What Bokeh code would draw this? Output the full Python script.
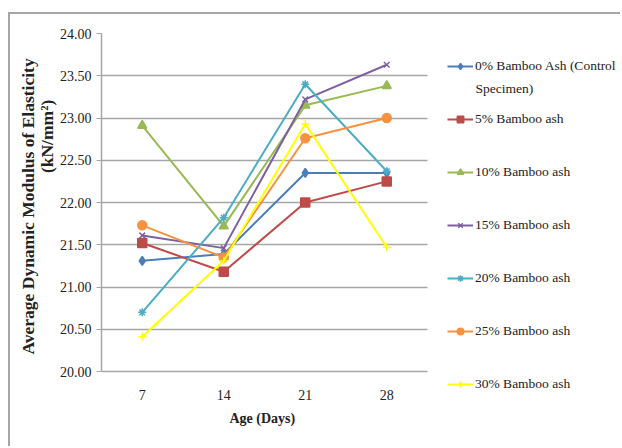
from bokeh.plotting import figure
from bokeh.models import (Legend, LegendItem, Label, FixedTicker, Range1d,
                          NumeralTickFormatter, Title)
from bokeh.embed import file_html
from bokeh.resources import INLINE

days = [7, 14, 21, 28]
series_names = [
    "0% Bamboo Ash (Control",
    "5% Bamboo ash",
    "10% Bamboo ash",
    "15% Bamboo ash",
    "20% Bamboo ash",
    "25% Bamboo ash",
    "30% Bamboo ash",
]
ash_0 = [21.31, 21.39, 22.35, 22.35]
ash_5 = [21.52, 21.18, 22.00, 22.25]
ash_10 = [22.91, 21.72, 23.15, 23.38]
ash_15 = [21.61, 21.46, 23.22, 23.63]
ash_20 = [20.70, 21.82, 23.40, 22.37]
ash_25 = [21.73, 21.35, 22.76, 23.00]
ash_30 = [20.41, 21.31, 22.93, 21.47]
y_ticks = [20.0, 20.5, 21.0, 21.5, 22.0, 22.5, 23.0, 23.5, 24.0]
Y0, Y1 = 20.0, 24.0

series = [ash_0, ash_5, ash_10, ash_15, ash_20, ash_25, ash_30]
colors = ["#4A7EBB", "#BE4B48", "#98B954", "#7D60A0", "#4BACC6", "#F69240", "#FFFF00"]
markers = ["diamond", "square", "triangle", "x", "asterisk", "circle", "cross"]
msizes = [9, 9, 9, 8, 8, 9, 8]

FONT = "Liberation Serif"
GRAY = "#a6a6a6"

# layout (pixels)
W, H = 612, 434
LEFT, TOP, BOTTOM = 91, 19, 56
PLOT_W, PLOT_H = 326, 338         # size of the data area 3.5..31.5 x 20..24
X0, X1 = 3.5, 31.5
frame_w = W - LEFT
frame_h = H - TOP - BOTTOM
x_end = X0 + (X1 - X0) * frame_w / PLOT_W
y_start = Y1 - (Y1 - Y0) * frame_h / PLOT_H

p = figure(width=W, height=H, output_backend="svg", toolbar_location=None,
           x_range=Range1d(X0, x_end), y_range=Range1d(y_start, Y1),
           min_border_left=LEFT, min_border_top=TOP, min_border_bottom=BOTTOM, min_border_right=0)
p.styles = {"border-top": "2px solid " + GRAY, "border-left": "2px solid " + GRAY,
            "margin-left": "8px", "margin-top": "12px"}
p.outline_line_color = None
p.background_fill_color = "white"
p.border_fill_color = "white"

p.xgrid.grid_line_color = None
p.ygrid.grid_line_color = GRAY
p.ygrid.grid_line_width = 1.5
p.ygrid.cross_bounds = (X0, X1)

p.xaxis.ticker = FixedTicker(ticks=days)
p.xaxis.bounds = (X0, X1)
p.yaxis.ticker = FixedTicker(ticks=y_ticks)
p.yaxis.bounds = (Y0, Y1)
p.yaxis.formatter = NumeralTickFormatter(format="0.00")

for ax in (p.xaxis[0], p.yaxis[0]):
    ax.major_label_text_font = FONT
    ax.major_label_text_font_size = "14px"
    ax.major_label_text_color = "#222222"
    ax.axis_label_text_font = FONT
    ax.axis_label_text_font_style = "bold"
    ax.axis_label_text_color = "#222222"
    ax.minor_tick_line_color = None

p.xaxis.axis_line_color = None
p.xaxis.major_tick_line_color = None
p.xaxis.major_tick_out = 0
p.xaxis.major_tick_in = 0
p.xaxis.major_label_standoff = -3

p.add_layout(Title(text="Age (Days)", align="left", offset=128, standoff=13,
                   text_font=FONT, text_font_size="14px", text_font_style="bold",
                   text_color="#222222"), "below")

p.yaxis.axis_line_color = GRAY
p.yaxis.axis_line_width = 1.5
p.yaxis.major_tick_line_color = GRAY
p.yaxis.major_tick_in = 0
p.yaxis.major_tick_out = 5
p.yaxis.major_label_standoff = 5
NB = "\u00a0"
p.yaxis.axis_label = (NB * 4 + "Average Dynamic Modulus  of Elasticity" + "\n"
                      + NB * 35 + "(kN/mm\u00b2)")
p.yaxis.axis_label_text_font_size = "17.5px"
p.yaxis.axis_label_text_line_height = 0.95
p.yaxis.axis_label_standoff = 0

items = []
for name, vals, c, m, s in zip(series_names, series, colors, markers, msizes):
    r1 = p.line(days, vals, line_color=c, line_width=2)
    r2 = p.scatter(days, vals, marker=m, size=s, fill_color=c, line_color=c, line_width=1.5)
    items.append(LegendItem(label=name, renderers=[r1, r2]))

# legend positions are measured from the frame's lower-left corner
legend = Legend(items=items, location=(346, -21 + (frame_h - PLOT_H)), glyph_width=26,
                glyph_height=16, label_height=16, spacing=37, padding=0, margin=0,
                label_standoff=2, label_text_font=FONT, label_text_font_size="13.5px",
                label_text_color="#222222", border_line_color=None, background_fill_alpha=0)
p.add_layout(legend)

p.add_layout(Label(x=374, y=283 + (frame_h - PLOT_H), x_units="screen", y_units="screen",
                   text="Specimen)", text_font=FONT, text_font_size="13.5px",
                   text_color="#222222", text_baseline="middle"))

open("out.html", "w").write(file_html(p, INLINE))
